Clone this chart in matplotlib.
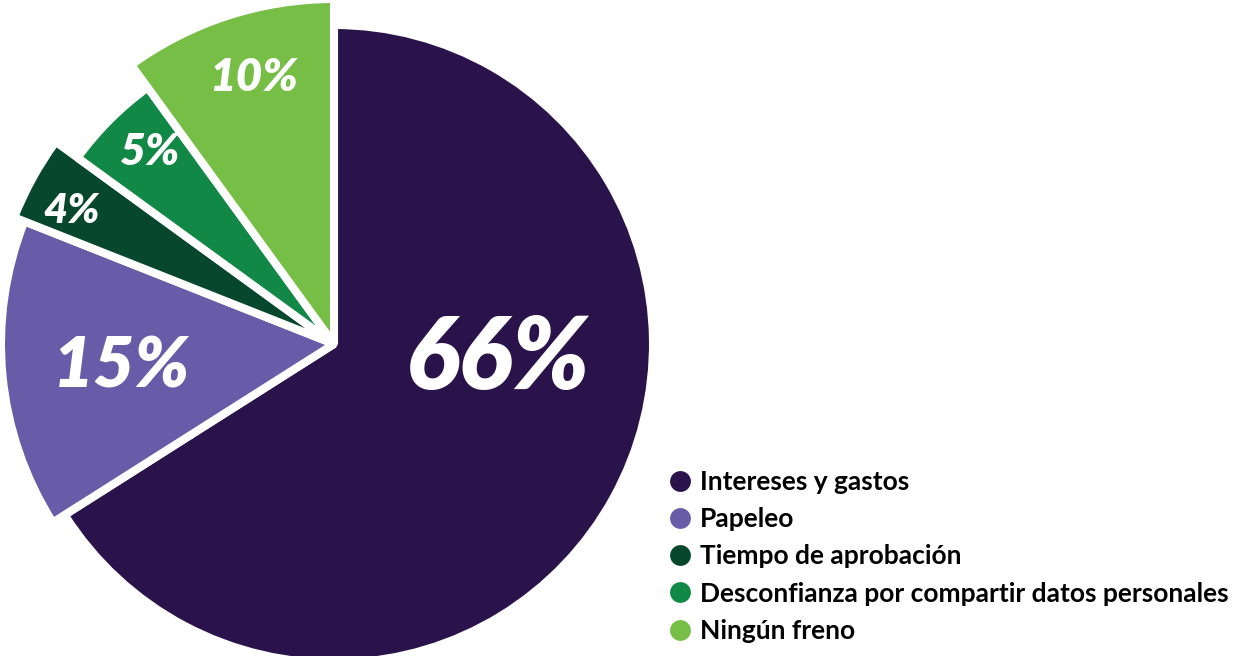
import numpy as np
import matplotlib; matplotlib.use('Agg')
import matplotlib.pyplot as plt
from matplotlib.lines import Line2D

# share of respondents by main obstacle
labels = ['Intereses y gastos', 'Papeleo', 'Tiempo de aprobación',
          'Desconfianza por compartir datos personales', 'Ningún freno']
values = [66, 15, 4, 5, 10]
colors = ['#29134A', '#685CA8', '#07472E', '#118845', '#77BE46']
# each slice pulled out to its own radius (pixels)
radii = [319, 333, 344, 317, 345]

W, H = 1242, 656
fig = plt.figure(figsize=(W/100, H/100), dpi=100)
ax = fig.add_axes([0, 0, 1, 1])
cx, cy = 334, H - 344

wedges, _ = ax.pie(values, colors=colors, startangle=90, counterclock=False,
                   center=(cx, cy), radius=radii[0],
                   wedgeprops=dict(edgecolor='white', linewidth=5.8, joinstyle='bevel'))
for w, r in zip(wedges, radii):
    w.set_radius(r)

# percentage labels: (x, y in px from top, size)
lab_pos = [(498, 360, 72), (122, 366, 51), (72, 211, 30), (149, 152, 32), (253, 78, 33)]
for v, (x, y, fs) in zip(values, lab_pos):
    ax.text(x, H - y, f'{v}%', color='white', fontsize=fs, family='Lato',
            weight='heavy', style='italic', ha='center', va='center')

handles = [Line2D([], [], marker='o', ls='', markersize=15, color=c, markeredgewidth=0)
           for c in colors]
ax.legend(handles, labels, loc='upper left', bbox_to_anchor=(670/W, 1 - 470/H),
          bbox_transform=fig.transFigure, frameon=False, borderpad=0, borderaxespad=0,
          handlelength=0.76, handletextpad=0.38, labelspacing=0.5,
          prop=dict(family='Lato', weight='bold', size=19))

ax.set_xlim(0, W); ax.set_ylim(0, H)
ax.set_aspect('equal'); ax.axis('off')
fig.savefig('out.png', dpi=100)
